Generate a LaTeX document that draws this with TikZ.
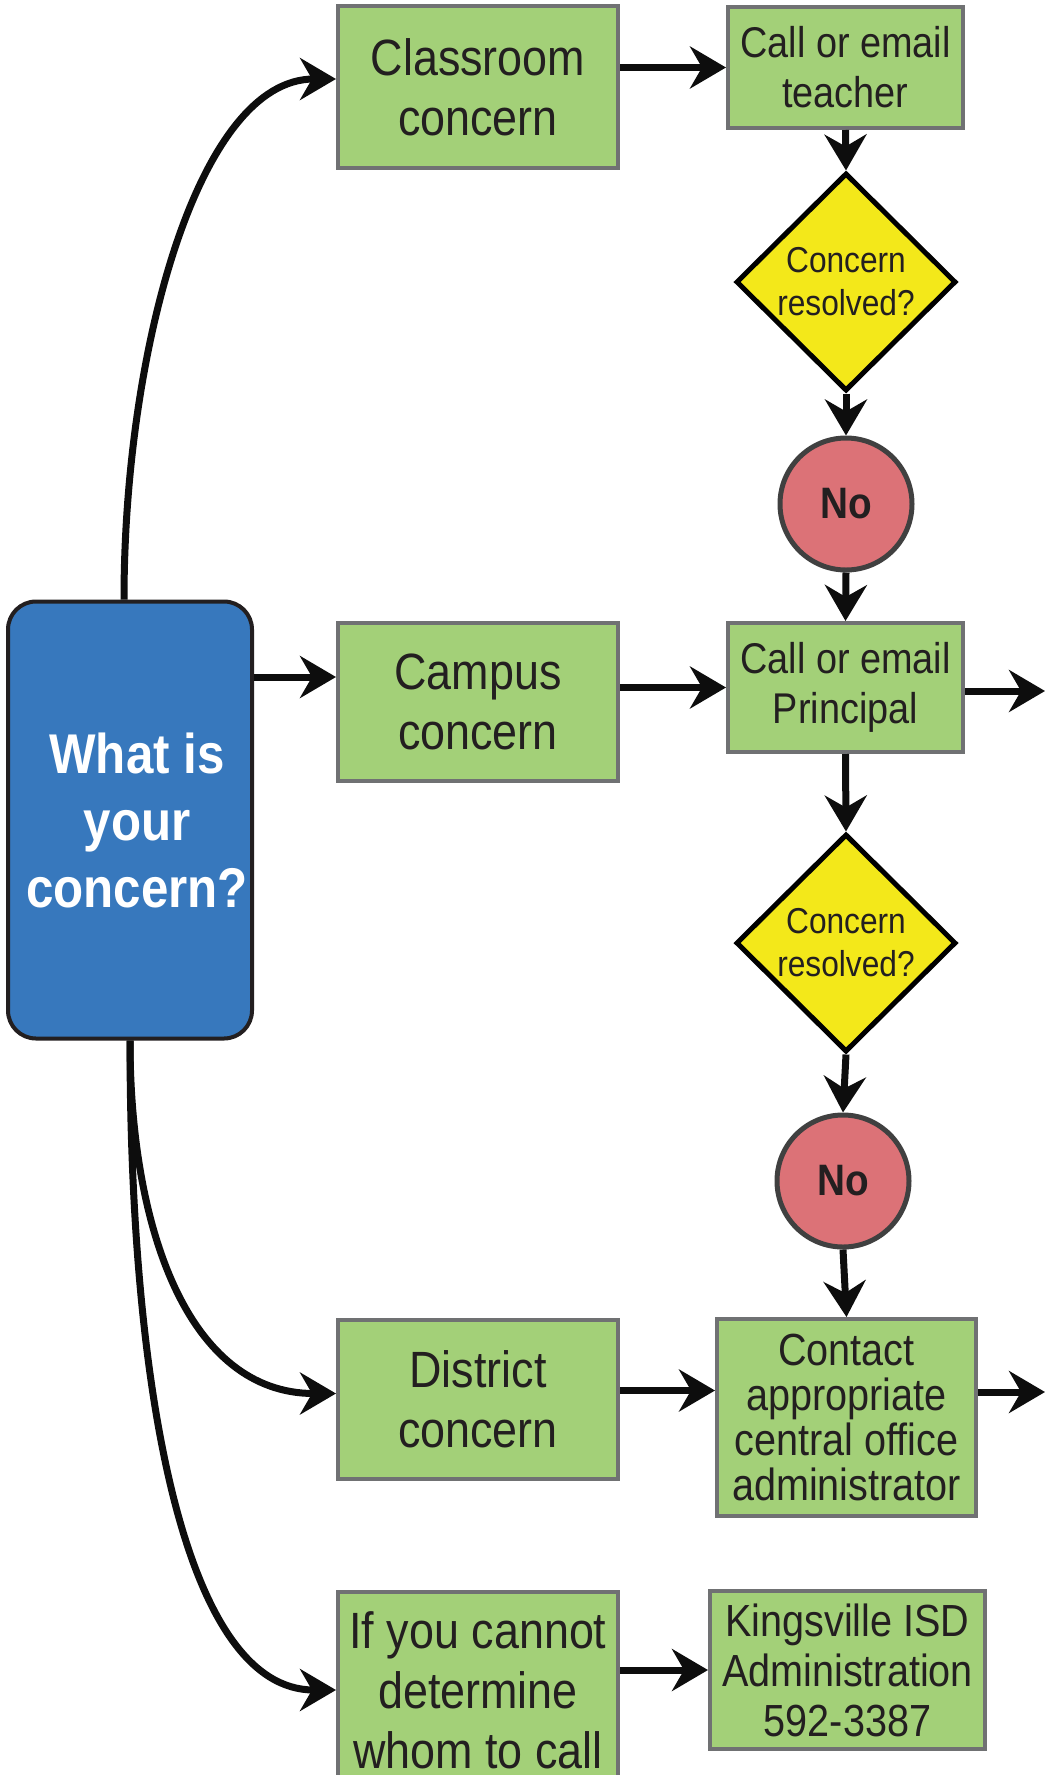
\documentclass[tikz,border=0pt]{standalone}
\usepackage{fontspec}
\setmainfont{Liberation Sans}[FakeStretch=0.88]
\usetikzlibrary{arrows.meta,shapes.geometric}

\definecolor{boxgreen}{HTML}{A3D078}
\definecolor{boxgray}{HTML}{707173}
\definecolor{askblue}{HTML}{3778BD}
\definecolor{askyellow}{HTML}{F3E81A}
\definecolor{nopink}{HTML}{DC7277}
\definecolor{inkdark}{HTML}{231F20}

\begin{document}
\begin{tikzpicture}[x=1pt, y=-1pt, >={Stealth[length=36pt,width=42pt,inset=12pt]},
    box/.style={draw=boxgray, line width=4pt, fill=boxgreen, text=inkdark, align=center, inner sep=0pt},
    bigbox/.style={box, minimum width=280pt, font=\fontsize{51}{60}\selectfont},
    callbox/.style={box, font=\fontsize{43}{50}\selectfont},
    decision/.style={diamond, draw=black, line width=5pt, fill=askyellow, text=inkdark, align=center,
        inner sep=0pt, shape aspect=1, minimum width=220pt, minimum height=218pt, font=\fontsize{36}{43}\selectfont},
    nobubble/.style={circle, draw=black!75, line width=5pt, fill=nopink, text=inkdark,
        minimum size=132pt, inner sep=0pt, font=\fontsize{44}{50}\selectfont\bfseries},
    flow/.style={->, line width=7pt, draw=black!95}]
    \useasboundingbox (0,0) rectangle (1045,1775);

    % start
    \node[draw=inkdark, line width=4pt, fill=askblue, rounded corners=28pt, text=white, align=center,
        minimum width=244pt, minimum height=437pt, font=\fontsize{56}{67}\selectfont\bfseries]
        (q) at (130,820) {\hspace*{14pt}What is\\\hspace*{14pt}your\\\hspace*{14pt}concern?};

    % classroom row
    \node[bigbox, minimum height=162pt] (classroom) at (478,87) {Classroom\\concern};
    \node[callbox, minimum width=235pt, minimum height=121pt] (teacher) at (845.5,67.5) {Call or email\\teacher};
    \node[decision] (check1) at (846,282) {Concern\\resolved?};
    \node[nobubble] (no1) at (846,504) {No};

    % campus row
    \node[bigbox, minimum height=158pt] (campus) at (478,702) {Campus\\concern};
    \node[callbox, minimum width=235pt, minimum height=129pt] (principal) at (845.5,687.5) {Call or email\\Principal};
    \node[decision] (check2) at (846,943) {Concern\\resolved?};
    \node[nobubble] (no2) at (843,1181) {No};

    % district row
    \node[bigbox, minimum height=159pt] (district) at (478,1399.5) {District\\concern};
    \node[box, minimum width=259pt, minimum height=197pt, font=\fontsize{45}{45}\selectfont]
        (contact) at (846.5,1417.5) {Contact\\appropriate\\central office\\administrator};

    % fallback row
    \node[bigbox, minimum height=196pt] (unsure) at (478,1690) {If you cannot\\determine\\whom to call};
    \node[box, minimum width=275pt, minimum height=158pt, font=\fontsize{45}{50}\selectfont]
        (kisd) at (847.5,1670) {Kingsville ISD\\Administration\\592-3387};

    \coordinate (campusin) at ([yshift=25pt]campus.west);
    \coordinate (districtout) at ([yshift=9pt]district.east);
    \coordinate (exit1) at (1045,691);
    \coordinate (exit2) at (1045,1392);

    % connectors
    \draw[flow] ([xshift=-6pt]q.north) to[out=90, in=180, out looseness=1.13, in looseness=0.63] ([yshift=8pt]classroom.west);
    \draw[flow] (q.east |- campusin) -- (campusin);
    \draw[flow] (q.south) to[out=-90, in=180, out looseness=1.18, in looseness=0.92] ([yshift=6pt]district.west);
    \draw[flow] (q.south) to[out=-90, in=180, out looseness=1.35, in looseness=0.56] (unsure.west);

    \draw[flow] (classroom.east |- teacher.west) -- (teacher.west);
    \draw[flow] (campus.east |- principal.west) -- (principal.west);
    \draw[flow] (districtout) -- (districtout -| contact.west);
    \draw[flow] (unsure.east |- kisd.west) -- (kisd.west);

    \foreach \a/\b in {teacher/check1, check1/no1, no1/principal, principal/check2, check2/no2, no2/contact}
        \draw[flow] (\a.south) -- (\b.north);

    \draw[flow] (principal.east |- exit1) -- (exit1);
    \draw[flow] (contact.east |- exit2) -- (exit2);
\end{tikzpicture}
\end{document}
